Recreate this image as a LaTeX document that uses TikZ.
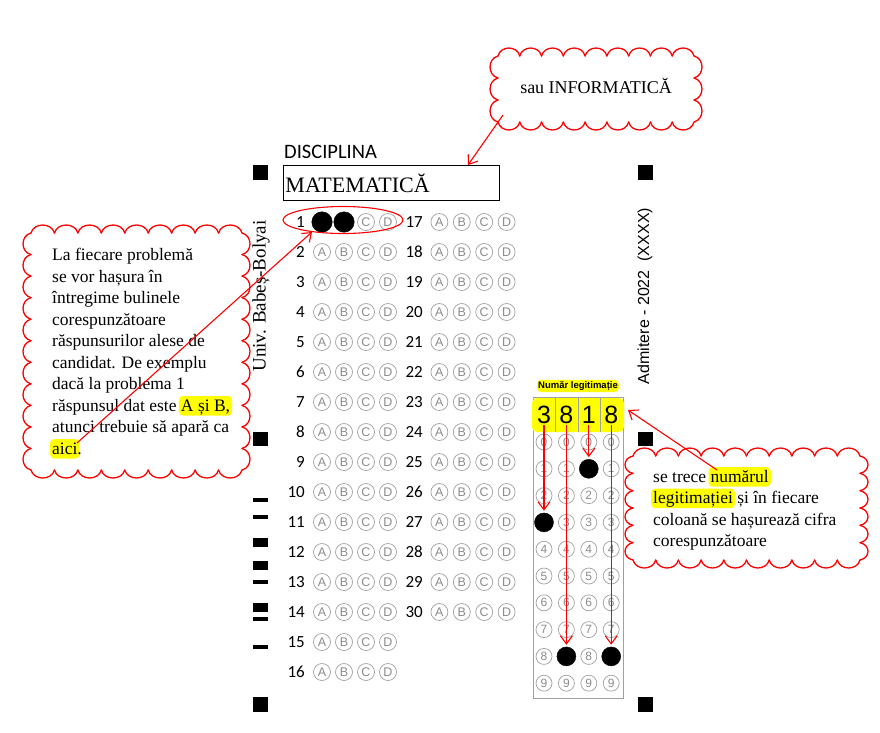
\documentclass[tikz,border=0pt]{standalone}
\usepackage{fontspec}
\setmainfont{Liberation Serif}
\newfontfamily\numfont{Carlito}
\newfontfamily\arialfont{Liberation Sans}
\usetikzlibrary{arrows.meta,calc,shapes.geometric}
\definecolor{hlyellow}{HTML}{FFFF00}
\definecolor{bubgray}{HTML}{A0A0A0}
\definecolor{bubtext}{HTML}{8C8C8C}
\definecolor{cred}{HTML}{FF0000}
\newcommand\hlt[1]{\hspace{-2pt}\tikz[baseline=(hh.base)]\node[fill=hlyellow,rounded corners=4pt,inner xsep=2pt,inner ysep=0pt,text height=15pt,text depth=4.5pt,anchor=base](hh){#1};\hspace{-2pt}}
\newcommand\cloudbox[7]{%
 \pgfmathsetmacro\cbwx{(#3-#1)/#5}%
 \pgfmathsetmacro\cbwy{(#4-#2)/#6}%
 \foreach \i in {1,...,#5}{%
  \draw[cloudline] ({#1+(\i-1)*\cbwx},#2) .. controls ({#1+(\i-0.88)*\cbwx},{#2-1.33*#7}) and ({#1+(\i-0.12)*\cbwx},{#2-1.33*#7}) .. ({#1+\i*\cbwx},#2);
  \draw[cloudline] ({#1+(\i-1)*\cbwx},#4) .. controls ({#1+(\i-0.88)*\cbwx},{#4+1.33*#7}) and ({#1+(\i-0.12)*\cbwx},{#4+1.33*#7}) .. ({#1+\i*\cbwx},#4);
 }%
 \foreach \i in {1,...,#6}{%
  \draw[cloudline] (#1,{#2+(\i-1)*\cbwy}) .. controls ({#1-1.33*#7},{#2+(\i-0.88)*\cbwy}) and ({#1-1.33*#7},{#2+(\i-0.12)*\cbwy}) .. (#1,{#2+\i*\cbwy});
  \draw[cloudline] (#3,{#2+(\i-1)*\cbwy}) .. controls ({#3+1.33*#7},{#2+(\i-0.88)*\cbwy}) and ({#3+1.33*#7},{#2+(\i-0.12)*\cbwy}) .. (#3,{#2+\i*\cbwy});
 }%
}
\begin{document}
\begin{tikzpicture}[x=1pt,y=-1pt,
  cloudline/.style={draw=cred,line width=1.3pt,line cap=round},
  bubble/.style={circle,draw=bubgray,line width=0.7pt,minimum size=17pt,inner sep=0pt,font=\arialfont\fontsize{12.5}{12.5}\selectfont,text=bubtext},
  filled/.style={circle,fill=black,draw=black,minimum size=20.5pt,inner sep=0pt},
  idbub/.style={bubble,minimum size=16pt,font=\arialfont\fontsize{12}{12}\selectfont},
  idfilled/.style={filled,minimum size=19pt},
  rownum/.style={anchor=east,inner sep=0pt,font=\numfont\fontsize{17}{17}\selectfont},
  redarrow/.style={draw=cred,line width=1.1pt,-{Straight Barb[length=8pt,width=12pt]}},
  callout/.style={align=left,anchor=north west,inner sep=0pt,font=\fontsize{17.5}{21.5}\selectfont},
  blk/.style={fill=black}
]
\fill[white] (0,0) rectangle (880,732);
\useasboundingbox (0,0) rectangle (880,732);

% registration marks
\fill[blk] (253,165) rectangle (268,180);
\fill[blk] (253,432) rectangle (268,446);
\fill[blk] (253,697) rectangle (268,712);
\fill[blk] (638,165) rectangle (653,180);
\fill[blk] (638,432) rectangle (653,446);
\fill[blk] (638,697) rectangle (653,712);
\fill[blk] (253,498) rectangle (268,502);
\fill[blk] (253,515) rectangle (268,519);
\fill[blk] (253,538) rectangle (268,547);
\fill[blk] (253,561) rectangle (268,570);
\fill[blk] (253,580) rectangle (268,584);
\fill[blk] (253,603) rectangle (268,612);
\fill[blk] (253,617) rectangle (268,621);
\fill[blk] (253,645) rectangle (268,649);

% header
\node[anchor=base west,inner sep=0pt,font=\numfont\fontsize{20.5}{20}\selectfont] (disc) at (284,158) {DISCIPLINA};
\node[draw,line width=0.9pt,anchor=north west,minimum width=216pt,minimum height=35pt,text width=212pt,align=left,inner xsep=2pt,font=\fontsize{22}{22}\selectfont] (subj) at (283,165) {MATEMATICĂ};

\node[rotate=90,font=\fontsize{19}{19}\selectfont] (univ) at (261,296) {Univ. Babeș-Bolyai};
\node[rotate=90,font=\arialfont\fontsize{16}{16}\selectfont] (adm) at (645,296) {Admitere - 2022\ \ (XXXX)};

% answer grid
\foreach \r in {1,...,16}{
  \pgfmathsetmacro\yy{222+30*(\r-1)}
  \node[rownum] (n\r) at (305,\yy) {\r};
  \foreach \l [count=\k] in {A,B,C,D}{
    \ifnum\r=1 \ifnum\k<3
      \node[filled] (b\r\l) at ({300+22*\k},\yy) {};
    \else
      \node[bubble] (b\r\l) at ({300+22*\k},\yy) {\l};
    \fi
    \else
      \node[bubble] (b\r\l) at ({300+22*\k},\yy) {\l};
    \fi
  }
  \ifnum\r<15
    \node[rownum] (m\r) at (423,\yy) {\the\numexpr\r+16\relax};
    \foreach \l [count=\k] in {A,B,C,D}{
      \node[bubble] (c\r\l) at ({417+22.4*\k},\yy) {\l};
    }
  \fi
}
\node[draw=cred,line width=1.1pt,ellipse,minimum width=120pt,minimum height=27pt,inner sep=0pt] (ell) at (343,220) {};

% ID box
\draw[bubgray,line width=0.8pt] (533,397) rectangle (623,698);
\fill[hlyellow,rounded corners=5pt] (532,398) rectangle (624,432);
\foreach \xx in {555.5,578,600.5}{ \draw[bubgray,line width=0.6pt] (\xx,398) -- (\xx,432); }
\node[fill=hlyellow,rounded corners=4pt,inner xsep=1pt,inner ysep=1.5pt,font=\arialfont\bfseries\fontsize{9.5}{10}\selectfont] (idlabel) at (578,386) {Număr legitimație};
\foreach \d [count=\k] in {3,8,1,8}{
  \pgfmathsetmacro\xx{544+22.4*(\k-1)}
  \node[inner sep=1pt,font=\arialfont\fontsize{25}{25}\selectfont] (dg\k) at (\xx,415) {\d};
  \foreach \n in {0,...,9}{
    \ifnum\n=\d
      \node[idfilled] (id\k-\n) at (\xx,{442+26.8*\n}) {};
    \else
      \node[idbub] (id\k-\n) at (\xx,{442+26.8*\n}) {\n};
    \fi
  }
  \draw[redarrow,shorten >=2pt] (dg\k.south) -- (id\k-\d.north);
}

% callouts
\cloudbox{31}{233}{242}{470}{9}{11}{8}
\node[callout] (lt) at (52,248) {La fiecare problemă\\ se vor hașura în\\ întregime bulinele\\ corespunzătoare\\ răspunsurilor alese de\\ candidat. De exemplu\\ dacă la problema 1\\ răspunsul dat este \hlt{A și B,}\\ atunci trebuie să apară ca\\ \hlt{aici}.};
\coordinate (ltend) at (77,443);
\coordinate (elltip) at (312,232);
\draw[redarrow] (ltend) -- (elltip);

\cloudbox{498}{56}{694}{122}{9}{3}{8}
\node[font=\fontsize{18}{18}\selectfont] (inf) at (596,86) {sau INFORMATICĂ};
\coordinate (infend) at (503,115);
\coordinate (subjtip) at (468,165);
\draw[redarrow] (infend) -- (subjtip);

\cloudbox{633}{456}{860}{560}{10}{6}{8}
\node[callout] (rt) at (653,467) {se trece \hlt{numărul}\\ \hlt{legitimației} și în fiecare\\ coloană se hașurează cifra\\ corespunzătoare};
\coordinate (rtend) at (717,470);
\coordinate (idtip) at (628,410);
\draw[redarrow] (rtend) -- (idtip);
\end{tikzpicture}
\end{document}
